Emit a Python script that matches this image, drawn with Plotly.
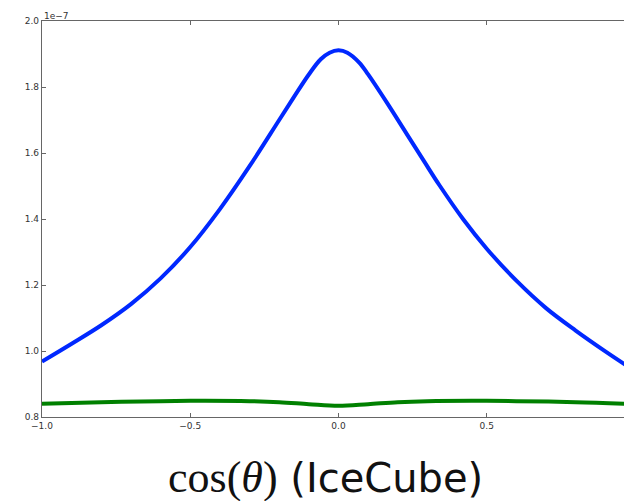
import plotly.graph_objects as go

# values in units of 1e-7
blue_x = [-1.0, -0.9, -0.8, -0.7, -0.6, -0.5, -0.4, -0.3, -0.2, -0.15, -0.1, -0.06, -0.03, 0.0,
          0.03, 0.07, 0.1, 0.16, 0.23, 0.29, 0.34, 0.42, 0.5, 0.6, 0.7, 0.8, 0.9, 0.97]
blue_y = [0.968, 1.022, 1.078, 1.142, 1.220, 1.315, 1.430, 1.560, 1.700, 1.770, 1.838, 1.884, 1.904, 1.911,
          1.904, 1.874, 1.838, 1.757, 1.658, 1.573, 1.503, 1.400, 1.310, 1.213, 1.130, 1.062, 0.999, 0.957]

green_x = [-1.0, -0.8, -0.6, -0.45, -0.3, -0.2, -0.1, 0.0, 0.1, 0.2, 0.3, 0.45, 0.6, 0.8, 0.97]
green_y = [0.840, 0.845, 0.848, 0.849, 0.848, 0.845, 0.839, 0.834, 0.839, 0.845, 0.848, 0.849, 0.848, 0.845, 0.840]

x_ticks = [-1.0, -0.5, 0.0, 0.5]
y_ticks = [0.8, 1.0, 1.2, 1.4, 1.6, 1.8, 2.0]
offset_label = "1e\u22127"
xlabel_math = "cos(<i>θ</i>)"
xlabel_text = "(IceCube)"

fig = go.Figure()
fig.add_trace(go.Scatter(x=blue_x, y=blue_y, mode="lines",
                         line=dict(color="#0028ff", width=4, shape="spline", smoothing=1.0),
                         showlegend=False))
fig.add_trace(go.Scatter(x=green_x, y=green_y, mode="lines",
                         line=dict(color="#008000", width=4, shape="spline", smoothing=1.0),
                         showlegend=False))

axis_color = "#666666"
fig.update_layout(
    width=624, height=501,
    margin=dict(l=42, r=0, t=21, b=84, autoexpand=False),
    paper_bgcolor="white", plot_bgcolor="white",
    font=dict(family="DejaVu Sans", size=9, color="#333333"),
    xaxis=dict(range=[-1.0, 0.963], tickvals=x_ticks, tickformat=".1f",
               showgrid=False, zeroline=False, showline=True, linecolor=axis_color, linewidth=1.2,
               mirror="ticks", ticks="inside", ticklen=4, tickcolor=axis_color),
    yaxis=dict(range=[0.8, 2.0], tickvals=y_ticks, tickformat=".1f",
               showgrid=False, zeroline=False, showline=True, linecolor=axis_color, linewidth=1.2,
               mirror=False, ticks="inside", ticklen=4, tickcolor=axis_color),
    annotations=[
        dict(text=offset_label, xref="paper", yref="paper", x=0.0, y=1.0,
             xanchor="left", yanchor="bottom", showarrow=False, yshift=-2,
             font=dict(family="DejaVu Sans", size=9, color="#333333")),
        dict(text='<span style="font-family:\'Liberation Serif\', serif;font-size:44px">' + xlabel_math + '</span> ' + xlabel_text,
             xref="paper", yref="paper", x=0.5, y=0, yshift=-60, xshift=-8,
             xanchor="center", yanchor="middle", showarrow=False,
             font=dict(family="DejaVu Sans", size=40, color="#111111")),
    ],
)

fig.write_html("out.html", config={"displayModeBar": False},
               post_script="document.body.style.margin='0';document.body.style.overflow='hidden';")
